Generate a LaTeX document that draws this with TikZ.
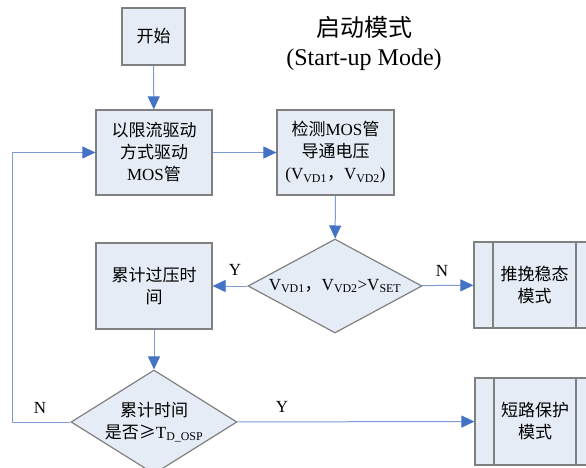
\documentclass[tikz,border=0pt]{standalone}
\usepackage{fontspec}
\setmainfont{Liberation Serif}
\newfontfamily\cjk{Noto Sans CJK SC}
\newcommand\zh[1]{{\cjk #1}}
\newcommand\vsub[1]{V\textsubscript{#1}}
\usetikzlibrary{arrows.meta,shapes.geometric}
\definecolor{boxfill}{RGB}{230,236,246}
\definecolor{boxline}{RGB}{128,128,128}
\definecolor{connline}{RGB}{125,155,212}
\definecolor{tipblue}{RGB}{68,114,196}
\tikzset{
  every node/.style={font=\fontsize{17}{22}\selectfont},
  procbox/.style={draw=boxline, fill=boxfill, line width=1.2pt, align=center, inner sep=0pt},
  predef/.style={procbox, path picture={
      \draw[boxline, line width=1.2pt]
        ([xshift=19pt]path picture bounding box.north west) -- ([xshift=19pt]path picture bounding box.south west);
      \draw[boxline, line width=1.2pt]
        ([xshift=-19pt]path picture bounding box.north east) -- ([xshift=-19pt]path picture bounding box.south east);}},
  decision/.style={draw=boxline, fill=boxfill, line width=1.2pt, shape=diamond, align=center, inner sep=0pt},
  conn/.style={draw=connline, line width=1pt, -{Triangle[length=13pt,width=12pt,color=tipblue]}},
  plainconn/.style={draw=connline, line width=1pt},
  lbl/.style={font=\fontsize{17}{20}\selectfont},
  titlefont/.style={font=\fontsize{24}{30}\selectfont}
}
\begin{document}
\begin{tikzpicture}[x=1pt,y=-1pt]
\useasboundingbox (0,0) rectangle (586,468);
\node[titlefont] (t1) at (364,27) {\zh{启动模式}};
\node[titlefont] (t2) at (364,60) {(Start-up Mode)};

\node[procbox, minimum width=63pt, minimum height=57pt] (start) at (153.5,36.5) {\zh{开始}};
\node[procbox, minimum width=116pt, minimum height=85pt] (drive) at (154,152.5) {\zh{以限流驱动}\\\zh{方式驱动}\\MOS\zh{管}};
\node[procbox, minimum width=117pt, minimum height=85pt] (detect) at (335.5,152.5) {\zh{检测}MOS\zh{管}\\\zh{导通电压}\\(\vsub{VD1}\zh{，}\vsub{VD2})};
\node[decision, minimum width=174pt, minimum height=94pt, aspect=1.85] (d1) at (335,286) {\vsub{VD1}\zh{，}\vsub{VD2}>\vsub{SET}};
\node[procbox, minimum width=116pt, minimum height=86pt] (accum) at (154,286) {\zh{累计过压时}\\\zh{间}};
\node[predef, minimum width=121pt, minimum height=86pt] (pp) at (534.5,285) {\zh{推挽稳态}\\\zh{模式}};
\node[decision, minimum width=166pt, minimum height=104pt, aspect=1.6] (d2) at (154,422) {\zh{累计时间}\\\zh{是否≥}T\textsubscript{D\_OSP}};
\node[predef, minimum width=120pt, minimum height=87pt] (short) at (535,421.5) {\zh{短路保护}\\\zh{模式}};
\coordinate (loopx) at (12,0);

\draw[conn] (start) -- (drive);
\draw[conn] (drive) -- (detect);
\draw[conn] (detect) -- (d1);
\draw[conn] (d1) -- (accum);
\draw[conn] (d1) -- (pp);
\draw[conn] (accum) -- (d2);
\draw[conn] (d2) -- (short);
\draw[conn] (d2.west) -- (d2.west -| loopx) -- (drive.west -| loopx) -- (drive.west);

\node[lbl] (y1) at (235,270) {Y};
\node[lbl] (n1) at (442,271) {N};
\node[lbl] (y2) at (282,407) {Y};
\node[lbl] (n2) at (40,408) {N};
\end{tikzpicture}
\end{document}
